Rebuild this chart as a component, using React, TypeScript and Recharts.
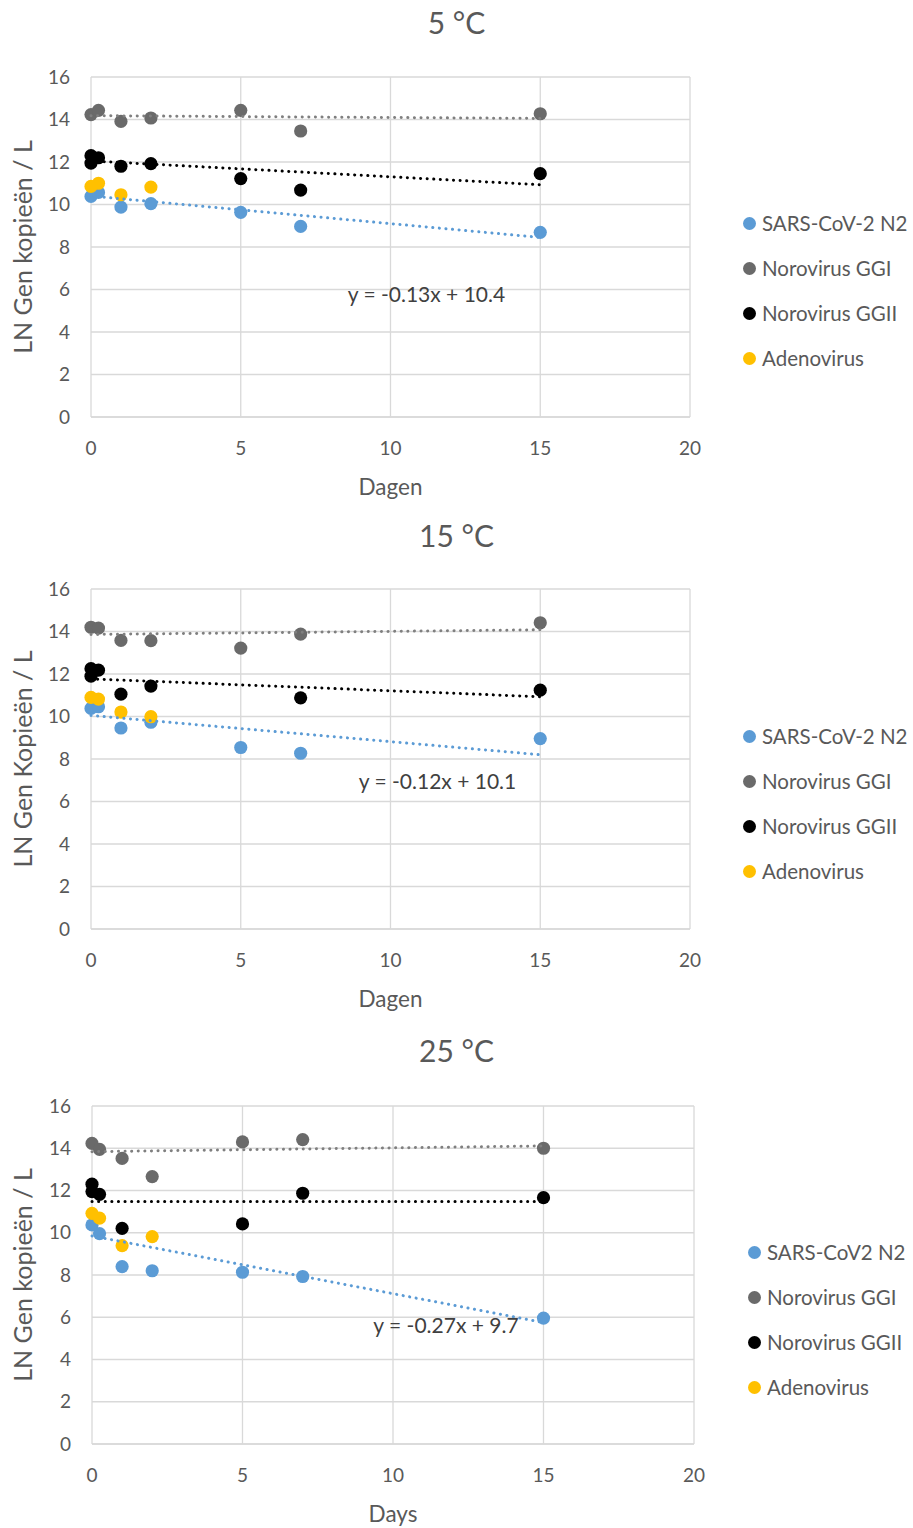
import React from "react"
import { ScatterChart, Scatter, XAxis, YAxis, CartesianGrid, ReferenceDot } from "recharts"

type Pair = [number, number]

const dayTicks = [0, 5, 10, 15, 20]
const valueTicks = [0, 2, 4, 6, 8, 10, 12, 14, 16]

const seriesNames = ["SARS-CoV-2 N2", "Norovirus GGI", "Norovirus GGII", "Adenovirus"]
const seriesNames25 = ["SARS-CoV2 N2", "Norovirus GGI", "Norovirus GGII", "Adenovirus"]
const seriesColors = ["#5B9BD5", "#6A6A6A", "#000000", "#FFC000"]
const trendColors = ["#5B9BD5", "#7F7F7F", "#000000"]

// 5 °C
const sars5: Pair[] = [[0, 10.38], [0.25, 10.57], [1, 9.88], [2, 10.04], [5, 9.63], [7, 8.97], [15, 8.69]]
const ggi5: Pair[] = [[0, 14.23], [0.25, 14.43], [1, 13.91], [2, 14.07], [5, 14.43], [7, 13.46], [15, 14.27]]
const ggii5: Pair[] = [[0, 12.3], [0, 11.95], [0.25, 12.2], [1, 11.8], [2, 11.92], [5, 11.22], [7, 10.68], [15, 11.45]]
const adeno5: Pair[] = [[0, 10.85], [0.25, 11.0], [1, 10.46], [2, 10.82]]
const sarsTrend5: Pair[] = [[0, 10.4], [15, 8.45]]
const ggiTrend5: Pair[] = [[0, 14.18], [15, 14.05]]
const ggiiTrend5: Pair[] = [[0, 12.05], [15, 10.93]]

// 15 °C
const sars15: Pair[] = [[0, 10.38], [0.25, 10.46], [1, 9.46], [2, 9.73], [5, 8.54], [7, 8.27], [15, 8.96]]
const ggi15: Pair[] = [[0, 14.2], [0.25, 14.16], [1, 13.58], [2, 13.57], [5, 13.22], [7, 13.88], [15, 14.41]]
const ggii15: Pair[] = [[0, 12.25], [0, 11.9], [0.25, 12.18], [1, 11.05], [2, 11.43], [7, 10.88], [15, 11.24]]
const adeno15: Pair[] = [[0, 10.9], [0.25, 10.82], [1, 10.21], [2, 9.99]]
const sarsTrend15: Pair[] = [[0, 10.05], [15, 8.2]]
const ggiTrend15: Pair[] = [[0, 13.86], [15, 14.08]]
const ggiiTrend15: Pair[] = [[0, 11.77], [15, 10.93]]

// 25 °C
const sars25: Pair[] = [[0, 10.37], [0.25, 9.96], [1, 8.4], [2, 8.2], [5, 8.13], [7, 7.93], [15, 5.96]]
const ggi25: Pair[] = [[0, 14.23], [0.25, 13.95], [1, 13.52], [2, 12.66], [5, 14.3], [7, 14.41], [15, 14.0]]
const ggii25: Pair[] = [[0, 12.3], [0, 11.95], [0.25, 11.82], [1, 10.21], [5, 10.42], [7, 11.87], [15, 11.66]]
const adeno25: Pair[] = [[0, 10.92], [0.25, 10.69], [1, 9.39], [2, 9.82]]
const sarsTrend25: Pair[] = [[0, 9.85], [15, 5.75]]
const ggiTrend25: Pair[] = [[0, 13.84], [15, 14.11]]
const ggiiTrend25: Pair[] = [[0, 11.48], [15, 11.48]]

const FONT = "Lato, 'Open Sans', sans-serif"
const TEXT = "#595959"

const toPoints = (pairs: Pair[]) => pairs.map(([x, y]) => ({ x, y }))
const noDot = () => <g />
const bigDot = (props: any) => <circle cx={props.cx} cy={props.cy} r={6.6} fill={props.fill} />

const panels = [
  {
    title: "5 °C",
    yLabel: "LN Gen kopieën / L",
    xLabel: "Dagen",
    names: seriesNames,
    series: [sars5, ggi5, ggii5, adeno5],
    trends: [sarsTrend5, ggiTrend5, ggiiTrend5],
    equation: "y = -0.13x + 10.4",
    eqAt: [11.2, 5.74],
    titleY: 22,
    plot: { top: 77, bottom: 417, left: 91, right: 690 },
    legend: { left: 743, top: 223 },
  },
  {
    title: "15 °C",
    yLabel: "LN Gen Kopieën / L",
    xLabel: "Dagen",
    names: seriesNames,
    series: [sars15, ggi15, ggii15, adeno15],
    trends: [sarsTrend15, ggiTrend15, ggiiTrend15],
    equation: "y = -0.12x + 10.1",
    eqAt: [11.57, 6.96],
    titleY: 535,
    plot: { top: 589, bottom: 929, left: 91, right: 690 },
    legend: { left: 743, top: 736 },
  },
  {
    title: "25 °C",
    yLabel: "LN Gen kopieën / L",
    xLabel: "Days",
    names: seriesNames25,
    series: [sars25, ggi25, ggii25, adeno25],
    trends: [sarsTrend25, ggiTrend25, ggiiTrend25],
    equation: "y = -0.27x + 9.7",
    eqAt: [11.76, 5.59],
    titleY: 1050,
    plot: { top: 1106, bottom: 1444, left: 92, right: 694 },
    legend: { left: 748, top: 1252 },
  },
]

const Panel = ({ p }: { p: (typeof panels)[number] }) => {
  const top = p.plot.top - 77
  const height = p.plot.bottom - top + 82
  return (
    <>
      <div
        style={{
          position: "absolute",
          left: 0,
          width: 913,
          top: p.titleY - 20,
          height: 40,
          lineHeight: "40px",
          textAlign: "center",
          fontFamily: FONT,
          fontSize: 30,
          color: TEXT,
        }}
      >
        {p.title}
      </div>
      <div style={{ position: "absolute", left: 0, top }}>
        <ScatterChart
          width={913}
          height={height}
          margin={{ top: p.plot.top - top, right: 913 - p.plot.right, bottom: 2, left: 0 }}
        >
          <CartesianGrid stroke="#D9D9D9" strokeWidth={1.3} />
          <XAxis
            type="number"
            dataKey="x"
            domain={[0, 20]}
            ticks={dayTicks}
            height={80}
            tickSize={0}
            tickMargin={25}
            axisLine={{ stroke: "#D9D9D9", strokeWidth: 1.3 }}
            tick={{ fill: TEXT, fontSize: 19, fontFamily: FONT }}
            label={{ value: p.xLabel, position: "insideBottom", offset: 2, fill: TEXT, fontSize: 22.5, fontFamily: FONT }}
          />
          <YAxis
            type="number"
            dataKey="y"
            domain={[0, 16]}
            ticks={valueTicks}
            width={p.plot.left}
            tickSize={0}
            tickMargin={21}
            axisLine={false}
            tick={{ fill: TEXT, fontSize: 19, fontFamily: FONT }}
            label={{
              value: p.yLabel,
              angle: -90,
              position: "insideLeft",
              offset: 23,
              fill: TEXT,
              fontSize: 25,
              fontFamily: FONT,
              style: { textAnchor: "middle" },
            }}
          />
          {p.series.map((s, i) => (
            <Scatter
              key={"s" + i}
              name={p.names[i]}
              data={toPoints(s)}
              fill={seriesColors[i]}
              shape={bigDot}
              isAnimationActive={false}
            />
          ))}
          {p.trends.map((t, i) => (
            <Scatter
              key={"t" + i}
              data={toPoints(t)}
              shape={noDot}
              legendType="none"
              line={{
                stroke: trendColors[i],
                strokeWidth: 3,
                strokeDasharray: "0.1 6.5",
                strokeLinecap: "round",
              }}
              isAnimationActive={false}
            />
          ))}
          <ReferenceDot
            x={p.eqAt[0]}
            y={p.eqAt[1]}
            r={0}
            fill="none"
            stroke="none"
            label={{ value: p.equation, position: "center", fill: "#404040", fontSize: 21, fontFamily: FONT }}
          />
        </ScatterChart>
      </div>
      <div style={{ position: "absolute", left: p.legend.left, top: p.legend.top - 22.5 }}>
        {p.names.map((name, i) => (
          <div key={name} style={{ height: 45, display: "flex", alignItems: "center" }}>
            <span
              style={{
                width: 13,
                height: 13,
                borderRadius: "50%",
                background: seriesColors[i],
                marginRight: 6,
                display: "inline-block",
              }}
            />
            <span style={{ fontFamily: FONT, fontSize: 20.5, color: TEXT, whiteSpace: "nowrap" }}>{name}</span>
          </div>
        ))}
      </div>
    </>
  )
}

export default function App() {
  return (
    <div style={{ position: "absolute", left: 0, top: 0, width: 913, height: 1528, background: "#fff" }}>
      {panels.map((p) => (
        <Panel key={p.title} p={p} />
      ))}
    </div>
  )
}
